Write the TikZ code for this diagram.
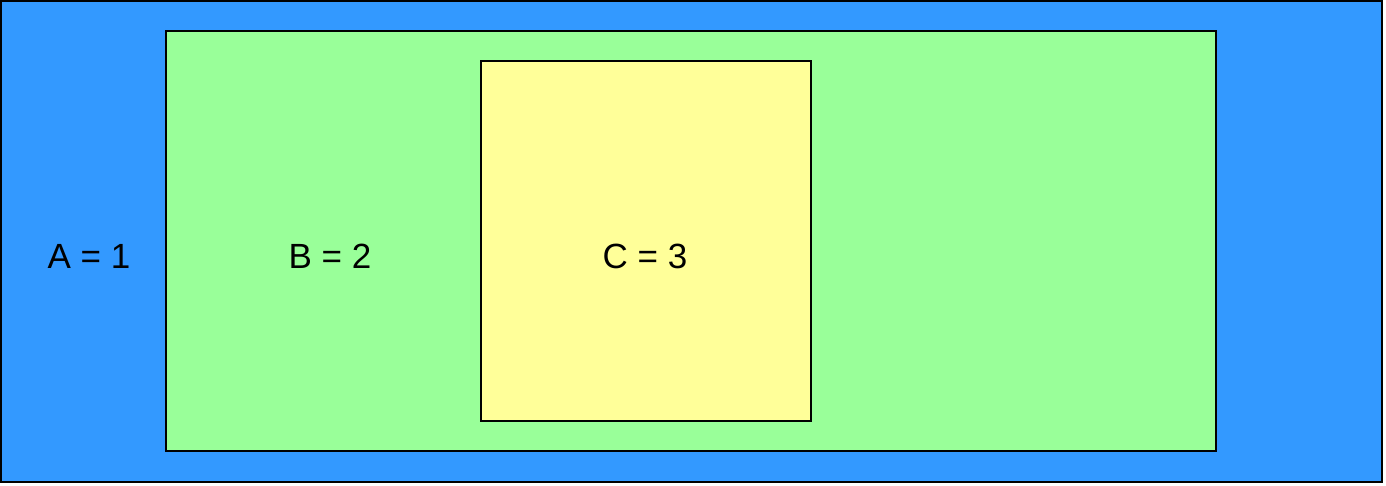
\documentclass[tikz,border=0pt]{standalone}
\usepackage{fontspec}
\setmainfont{Liberation Sans}
\usepackage{xcolor}
\usetikzlibrary{positioning}
\definecolor{SetBlue}{HTML}{3399FF}
\definecolor{SetGreen}{HTML}{99FF99}
\definecolor{SetYellow}{HTML}{FFFF99}

\begin{document}
\begin{tikzpicture}[x=.5pt,y=-.5pt,box/.style={draw=black,line width=1pt},lbl/.style={font=\fontsize{17.5}{20}\selectfont}]
\useasboundingbox (0,0) rectangle (1386,486);
\draw[box,fill=SetBlue] (1,1) rectangle (1382,482);
\draw[box,fill=SetGreen] (166,31) rectangle (1216,451);
\draw[box,fill=SetYellow] (481,61) rectangle (811,421);
\node[lbl] (setA) at (89,256) {A = 1};
\node[lbl] (setB) at (330,256) {B = 2};
\node[lbl] (setC) at (645,256) {C = 3};
\end{tikzpicture}
\end{document}
